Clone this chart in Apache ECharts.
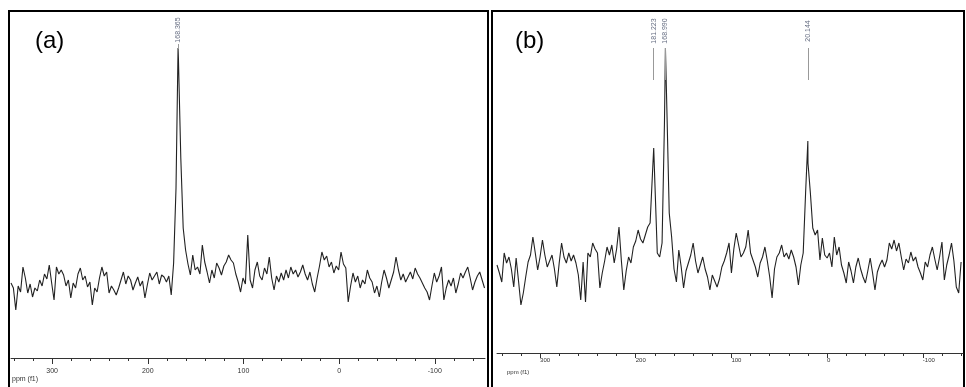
<!DOCTYPE html>
<html><head><meta charset="utf-8">
<script src="https://cdn.jsdelivr.net/npm/echarts@6/dist/echarts.min.js"></script>
<style>html,body{margin:0;padding:0;background:#fff}#c{width:966px;height:387px}</style>
</head><body><div id="c"></div>
<script>
// ---- data (ppm grid start/step, intensities) ----
const ppmStartA = 343, ppmStepA = 2.5;
const intA = [75,70,48,72,66,91,80,65,74,61,70,67,78,72,84,79,93,75,58,91,
84,88,83,72,78,60,75,70,84,90,78,82,71,76,53,70,66,80,91,82,
86,65,72,68,63,70,78,86,74,82,78,68,75,81,72,77,60,73,85,78,
82,86,74,83,81,76,82,63,95,170,300,200,130,108,94,83,103,88,91,84,
113,96,86,75,88,80,95,90,83,92,96,103,98,95,84,76,66,80,74,123,
78,70,88,96,82,78,90,84,101,80,68,82,76,85,78,88,80,91,84,88,
81,86,93,84,78,86,74,66,80,92,106,98,102,91,96,85,92,88,106,94,
90,56,72,85,76,82,70,78,74,88,80,76,65,72,61,76,88,80,70,78,
86,101,88,78,84,76,81,86,79,90,84,80,75,70,66,58,72,85,76,82,
91,58,70,78,72,80,65,74,85,80,86,91,80,68,76,82,86,78,70];
const peakPpmA = [168.365];
const peakIntA = [310];

const ppmStartB = 345, ppmStepB = 2.5;
const intB = [88,80,71,100,90,96,84,66,95,72,48,60,76,91,98,116,100,83,96,113,
98,86,92,98,84,66,90,110,96,90,100,92,98,90,78,53,91,51,100,96,
110,104,100,65,80,92,106,98,108,90,104,126,92,63,82,96,90,106,112,123,
114,110,118,126,130,180,170,100,96,110,230,245,140,116,84,71,103,86,65,82,
90,98,110,92,80,88,96,84,76,63,78,72,66,74,86,92,100,110,80,104,
120,108,96,100,106,123,100,93,86,76,90,96,106,92,76,55,84,96,100,108,
96,100,94,103,96,86,68,88,100,160,190,160,125,118,123,93,115,98,95,100,
86,116,98,106,88,80,70,91,82,70,86,95,84,76,70,82,95,80,63,81,
88,93,86,93,110,104,113,102,110,96,83,94,90,101,92,96,86,80,73,91,
86,98,106,94,83,96,111,73,88,98,110,92,66,60,91];
const peakPpmB = [181.223, 168.990, 20.144];
const peakIntB = [205, 305, 212];

const majorTicks = [300, 200, 100, 0, -100];
const majorLabels = ['300', '200', '100', '0', '-100'];
const minorTicks = [340,320,280,260,240,220,180,160,140,120,80,60,40,20,-20,-40,-60,-80,-120,-140];

// ---- build ----
function build(start, step, vals, pp, pi) {
  const d = vals.map((v, i) => [start - step * i, v]);
  pp.forEach((p, k) => d.push([p, pi[k]]));
  d.sort((a, b) => b[0] - a[0]);
  return d;
}
const dataA = build(ppmStartA, ppmStepA, intA, peakPpmA, peakIntA);
const dataB = build(ppmStartB, ppmStepB, intB, peakPpmB, peakIntB);

const FONT = 'Liberation Sans, Arial, sans-serif';
const chart = echarts.init(document.getElementById('c'));

function labelFmt(v) {
  const i = majorTicks.indexOf(v);
  return i >= 0 ? majorLabels[i] : String(v);
}

chart.setOption({
  animation: false,
  backgroundColor: '#fff',
  grid: [
    {left: 11, right: 481, top: 11, bottom: 29},
    {left: 497, right: 3, top: 11, bottom: 34}
  ],
  xAxis: [
    {gridIndex: 0, position: 'bottom', type: 'value', inverse: true, min: -152.5, max: 343,
     axisLine: {show: true, lineStyle: {color: '#333', width: 1}},
     axisTick: {show: true, length: 6, customValues: majorTicks, lineStyle: {color: '#333'}},
     axisLabel: {show: true, customValues: majorTicks, formatter: labelFmt, fontSize: 7, color: '#333', fontFamily: FONT, margin: 10},
     splitLine: {show: false}},
    {gridIndex: 0, position: 'bottom', type: 'value', inverse: true, min: -152.5, max: 343,
     axisLine: {show: false},
     axisTick: {show: true, length: 3, customValues: minorTicks, lineStyle: {color: '#333'}},
     axisLabel: {show: false}, splitLine: {show: false}},
    {gridIndex: 1, position: 'bottom', type: 'value', inverse: true, min: -142, max: 345,
     axisLine: {show: true, lineStyle: {color: '#333', width: 1}},
     axisTick: {show: true, length: 5, customValues: majorTicks, lineStyle: {color: '#333'}},
     axisLabel: {show: true, customValues: majorTicks, formatter: labelFmt, fontSize: 6, color: '#333', fontFamily: FONT, margin: 4, align: 'left'},
     splitLine: {show: false}},
    {gridIndex: 1, position: 'bottom', type: 'value', inverse: true, min: -142, max: 345,
     axisLine: {show: false},
     axisTick: {show: true, length: 3, customValues: minorTicks, lineStyle: {color: '#333'}},
     axisLabel: {show: false}, splitLine: {show: false}}
  ],
  yAxis: [
    {gridIndex: 0, type: 'value', min: 0, max: 347, show: false},
    {gridIndex: 1, type: 'value', min: 0, max: 342, show: false}
  ],
  series: [
    {type: 'line', xAxisIndex: 0, yAxisIndex: 0, data: dataA, showSymbol: false,
     lineStyle: {color: '#222', width: 1.1}, clip: false,
     markLine: {silent: true, symbol: 'none', label: {show: false},
       lineStyle: {color: '#999', width: 1, type: 'solid'},
       data: peakPpmA.map(p => [{coord: [p, 309]}, {coord: [p, 314]}])}},
    {type: 'scatter', xAxisIndex: 0, yAxisIndex: 0, symbolSize: 0,
     data: peakPpmA.map(p => [p, 328]),
     label: {show: true, position: 'inside', rotate: 90, fontSize: 7, color: '#3c4660', fontFamily: FONT,
       formatter: p => p.value[0].toFixed(3)}},
    {type: 'line', xAxisIndex: 2, yAxisIndex: 1, data: dataB, showSymbol: false,
     lineStyle: {color: '#222', width: 1.1}, clip: false,
     markLine: {silent: true, symbol: 'none', label: {show: false},
       lineStyle: {color: '#999', width: 1, type: 'solid'},
       data: peakPpmB.map(p => [{coord: [p, 273]}, {coord: [p, 305]}])}},
    {type: 'scatter', xAxisIndex: 2, yAxisIndex: 1, symbolSize: 0,
     data: peakPpmB.map(p => [p, 322]),
     label: {show: true, position: 'inside', rotate: 90, fontSize: 7, color: '#3c4660', fontFamily: FONT,
       formatter: p => p.value[0].toFixed(3)}}
  ],
  graphic: [
    {type: 'rect', shape: {x: 9, y: 11, width: 479, height: 400}, style: {fill: null, stroke: '#000', lineWidth: 2}, silent: true},
    {type: 'rect', shape: {x: 492, y: 11, width: 472, height: 400}, style: {fill: null, stroke: '#000', lineWidth: 2}, silent: true},
    {type: 'text', x: 35, y: 29, style: {text: '(a)', fontSize: 24, fill: '#000', fontFamily: FONT}},
    {type: 'text', x: 515, y: 29, style: {text: '(b)', fontSize: 24, fill: '#000', fontFamily: FONT}},
    {type: 'text', x: 12, y: 376, style: {text: 'ppm (f1)', fontSize: 7, fill: '#333', fontFamily: FONT}},
    {type: 'text', x: 507, y: 369, style: {text: 'ppm (f1)', fontSize: 6, fill: '#333', fontFamily: FONT}}
  ]
});
</script>
</body></html>
